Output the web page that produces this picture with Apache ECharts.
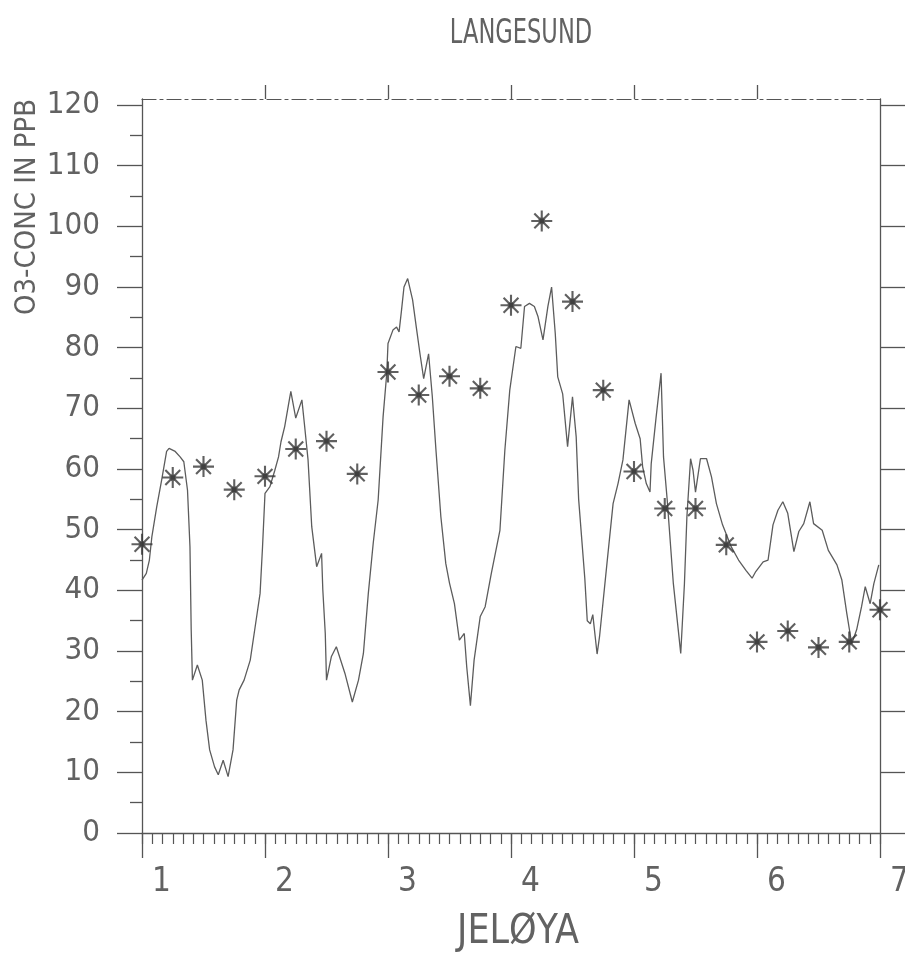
<!DOCTYPE html>
<html>
<head>
<meta charset="utf-8">
<script src="https://cdn.jsdelivr.net/npm/echarts@6/dist/echarts.min.js"></script>
<style>
html,body{margin:0;padding:0;background:#fff;}
#chart{width:905px;height:958px;}
</style>
</head>
<body>
<div id="chart"></div>
<script>
// ---- data ----
var titleText = 'LANGESUND';
var xName = 'JELØYA';
var yName = 'O3-CONC IN PPB';

var xTickValues = [1, 2, 3, 4, 5, 6, 7];
var xTopTickValues = [2, 3, 4, 5, 6];
var yTickValues = [0, 10, 20, 30, 40, 50, 60, 70, 80, 90, 100, 110, 120];
var yMinorTickValues = [5, 15, 25, 35, 45, 55, 65, 75, 85, 95, 105, 115];

// model curve (day, ppb)
var lineDays = [1.00,1.035,1.06,1.08,1.12,1.16,1.20,1.22,1.27,1.31,1.34,1.37,1.39,1.40,1.41,1.45,1.49,1.52,1.55,1.59,1.62,1.66,1.70,1.74,1.77,1.79,1.83,1.88,1.92,1.96,1.98,2.00,2.04,2.08,2.11,2.13,2.16,2.19,2.21,2.25,2.30,2.32,2.35,2.38,2.42,2.46,2.47,2.49,2.50,2.54,2.58,2.65,2.71,2.76,2.80,2.84,2.88,2.92,2.96,2.99,3.00,3.04,3.07,3.09,3.11,3.13,3.16,3.20,3.23,3.26,3.29,3.33,3.36,3.39,3.43,3.47,3.50,3.54,3.58,3.62,3.64,3.67,3.70,3.75,3.79,3.84,3.91,3.95,3.99,4.04,4.08,4.11,4.15,4.19,4.22,4.26,4.30,4.33,4.36,4.38,4.42,4.46,4.50,4.53,4.55,4.60,4.62,4.645,4.665,4.70,4.72,4.78,4.83,4.87,4.91,4.96,5.01,5.05,5.07,5.10,5.13,5.14,5.18,5.22,5.24,5.27,5.32,5.38,5.41,5.43,5.46,5.48,5.50,5.54,5.59,5.63,5.67,5.72,5.79,5.85,5.91,5.96,5.99,6.05,6.09,6.13,6.17,6.21,6.25,6.30,6.34,6.38,6.43,6.46,6.53,6.58,6.65,6.69,6.73,6.77,6.81,6.85,6.88,6.92,6.95,6.99];
var lineO3 = [41.7,42.8,45.0,48.8,53.8,58.2,62.9,63.4,62.9,62.0,61.2,56.5,47.2,33.5,25.2,27.7,25.2,18.6,13.7,10.9,9.6,12.0,9.3,13.7,21.9,23.6,25.2,28.5,34.0,39.5,47.2,56.0,57.1,59.8,62.0,64.5,67.0,70.5,72.8,68.4,71.4,67.5,61.5,50.5,43.9,46.1,40.1,32.9,25.2,29.1,30.7,26.3,21.6,25.2,29.6,39.5,47.8,54.9,68.6,75.8,80.7,82.9,83.4,82.6,86.2,90.0,91.4,87.9,83.4,79.0,74.9,79.0,72.0,63.1,52.1,44.4,41.2,37.8,31.8,32.9,27.4,21.0,28.5,35.7,37.3,42.8,49.9,63.1,73.0,80.2,79.9,86.8,87.3,86.8,85.1,81.3,86.8,90.0,82.3,75.2,72.4,63.7,71.9,65.3,55.0,42.0,35.0,34.5,36.0,29.5,32.4,44.4,54.3,57.6,61.5,71.4,67.5,65.0,60.4,57.6,56.2,60.9,68.6,75.8,62.0,54.9,41.1,29.6,41.1,52.1,61.7,59.8,56.2,61.7,61.7,58.7,54.3,50.8,47.2,45.0,43.3,42.0,43.1,44.7,45.0,50.8,53.2,54.6,52.7,46.4,49.7,51.0,54.6,51.0,49.9,46.6,44.2,41.7,36.2,31.2,33.5,37.3,40.6,37.8,41.1,44.2];

// observations (day, ppb)
var obsDays = [1.00,1.25,1.50,1.75,2.00,2.25,2.50,2.75,3.00,3.25,3.50,3.75,4.00,4.25,4.50,4.75,5.00,5.25,5.50,5.75,6.00,6.25,6.50,6.75,7.00];
var obsO3 = [47.6,58.6,60.4,56.6,58.8,63.3,64.6,59.2,76.0,72.2,75.3,73.3,87.0,100.9,87.6,73.0,59.6,53.5,53.5,47.5,31.5,33.3,30.6,31.5,36.8];

// ---- build ----
var linePairs = lineDays.map(function (d, i) { return [d, lineO3[i]]; });
var obsPairs = obsDays.map(function (d, i) { return [d, obsO3[i]]; });
var xMinorTickValues = [];
for (var i = 0; i <= 72; i++) { xMinorTickValues.push(1 + i / 12); }

var FONT = "'Liberation Sans Narrow', 'DejaVu Sans Condensed', 'Liberation Sans', sans-serif";
var INK = '#555';
var TXT = '#626262';

var asterisk = 'path://M0,-10L0,10M-10,0L10,0M-7.07,-7.07L7.07,7.07M-7.07,7.07L7.07,-7.07M-2.2,-2.2L2.2,-2.2L2.2,2.2L-2.2,2.2Z';

var chart = echarts.init(document.getElementById('chart'), null, { renderer: 'canvas' });
chart.setOption({
  backgroundColor: '#fff',
  animation: false,
  grid: { left: 142, right: 25, top: 99, bottom: 125, containLabel: false, outerBoundsMode: 'none' },
  xAxis: [
    { // bottom, majors + labels
      type: 'value', position: 'bottom', min: 1, max: 7,
      axisLine: { show: true, onZero: false, lineStyle: { color: INK, width: 1.3 } },
      axisTick: { show: true, length: 25, customValues: xTickValues, lineStyle: { color: INK, width: 1.3 } },
      axisLabel: { show: true, customValues: xTickValues, align: 'left', padding: [0, 0, 0, 10],
        margin: 33, fontFamily: FONT, fontSize: 33, color: TXT },
      splitLine: { show: false }
    },
    { // bottom, minor ticks
      type: 'value', position: 'bottom', min: 1, max: 7, gridIndex: 0,
      axisLine: { show: false, onZero: false },
      axisTick: { show: true, length: 11, customValues: xMinorTickValues, lineStyle: { color: INK, width: 1.2 } },
      axisLabel: { show: false },
      splitLine: { show: false }
    },
    { // top frame
      type: 'value', position: 'top', min: 1, max: 7, gridIndex: 0,
      axisLine: { show: true, onZero: false, lineStyle: { color: INK, width: 1.2, type: [14, 4, 3, 4] } },
      axisTick: { show: true, length: 14, customValues: xTopTickValues, lineStyle: { color: INK, width: 1.3 } },
      axisLabel: { show: false },
      splitLine: { show: false }
    }
  ],
  yAxis: [
    { // left majors + labels
      type: 'value', position: 'left', min: 0, max: 121,
      axisLine: { show: true, onZero: false, lineStyle: { color: INK, width: 1.3 } },
      axisTick: { show: true, length: 25, customValues: yTickValues, lineStyle: { color: INK, width: 1.3 } },
      axisLabel: { show: true, customValues: yTickValues, margin: 42, fontFamily: FONT, fontSize: 31, color: TXT },
      splitLine: { show: false }
    },
    { // left minor ticks
      type: 'value', position: 'left', min: 0, max: 121, gridIndex: 0,
      axisLine: { show: false, onZero: false },
      axisTick: { show: true, length: 12, customValues: yMinorTickValues, lineStyle: { color: INK, width: 1.3 } },
      axisLabel: { show: false },
      splitLine: { show: false }
    },
    { // right frame
      type: 'value', position: 'right', min: 0, max: 121, gridIndex: 0,
      axisLine: { show: true, onZero: false, lineStyle: { color: INK, width: 1.3 } },
      axisTick: { show: true, length: 26, customValues: yTickValues, lineStyle: { color: INK, width: 1.3 } },
      axisLabel: { show: false },
      splitLine: { show: false }
    }
  ],
  series: [
    {
      type: 'line', xAxisIndex: 0, yAxisIndex: 0,
      data: linePairs, showSymbol: false, symbol: 'none',
      lineStyle: { color: '#5c5c5c', width: 1.3 },
      z: 2
    },
    {
      type: 'scatter', xAxisIndex: 0, yAxisIndex: 0,
      data: obsPairs, symbol: asterisk, symbolSize: 21,
      itemStyle: { color: '#383838', borderColor: '#383838', borderWidth: 2.1 },
      z: 3
    }
  ],
  graphic: [
    { type: 'text', x: 521, y: 34, scaleX: 0.76, style: { text: titleText, font: '33px ' + FONT, fill: TXT, align: 'center', verticalAlign: 'middle' } },
    { type: 'text', x: 518, y: 932, scaleX: 0.95, style: { text: xName, font: '41px ' + FONT, fill: TXT, align: 'center', verticalAlign: 'middle' } },
    { type: 'text', x: 27, y: 207, rotation: Math.PI / 2, style: { text: yName, font: '29px ' + FONT, fill: TXT, align: 'center', verticalAlign: 'middle' } }
  ]
});
</script>
</body>
</html>
